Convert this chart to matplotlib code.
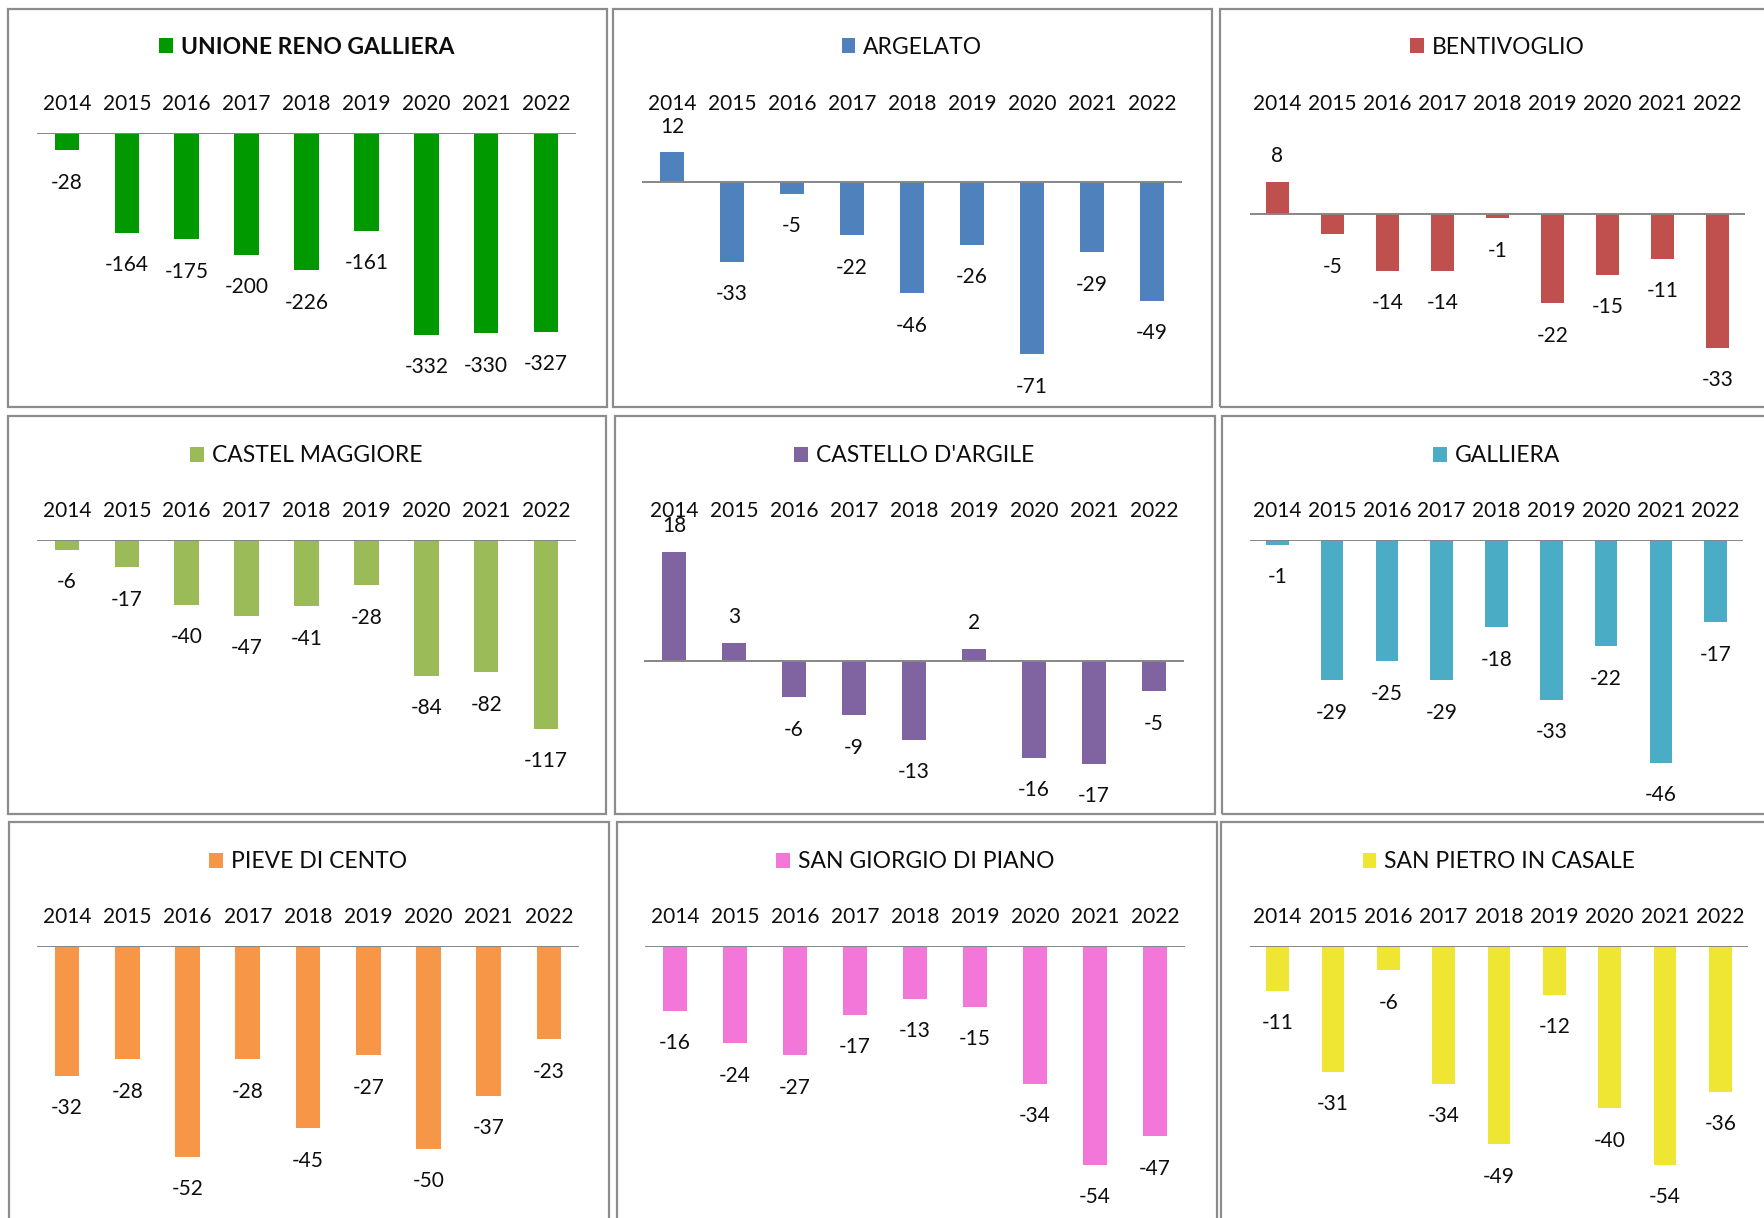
import matplotlib
matplotlib.use("Agg")
import matplotlib.pyplot as plt
import matplotlib.transforms as mtransforms
from matplotlib.patches import Rectangle

plt.rcParams['font.family'] = ['Lato', 'DejaVu Sans']

# data: saldo naturale per comune, 2014-2022
YEARS = ['2014', '2015', '2016', '2017', '2018', '2019', '2020', '2021', '2022']

unione = [-28, -164, -175, -200, -226, -161, -332, -330, -327]
argelato = [12, -33, -5, -22, -46, -26, -71, -29, -49]
bentivoglio = [8, -5, -14, -14, -1, -22, -15, -11, -33]
castel_maggiore = [-6, -17, -40, -47, -41, -28, -84, -82, -117]
castello_dargile = [18, 3, -6, -9, -13, 2, -16, -17, -5]
galliera = [-1, -29, -25, -29, -18, -33, -22, -46, -17]
pieve_di_cento = [-32, -28, -52, -28, -45, -27, -50, -37, -23]
san_giorgio = [-16, -24, -27, -17, -13, -15, -34, -54, -47]
san_pietro = [-11, -31, -6, -34, -49, -12, -40, -54, -36]

W, H = 1765, 1218

# (name, values, color, ylim, bold, plot x0, x1, row)
PANELS = [
    ('UNIONE RENO GALLIERA', unione, '#009A00', (-400, 0), True, 37, 576, 0),
    ('ARGELATO', argelato, '#4F81BD', (-80, 20), False, 642, 1182, 0),
    ('BENTIVOGLIO', bentivoglio, '#C0504D', (-40, 20), False, 1250, 1745, 0),
    ('CASTEL MAGGIORE', castel_maggiore, '#9BBB59', (-150, 0), False, 37, 576, 1),
    ("CASTELLO D'ARGILE", castello_dargile, '#8064A2', (-20, 20), False, 644, 1184, 1),
    ('GALLIERA', galliera, '#4BACC6', (-50, 0), False, 1250, 1743, 1),
    ('PIEVE DI CENTO', pieve_di_cento, '#F79646', (-60, 0), False, 37, 579, 2),
    ('SAN GIORGIO DI PIANO', san_giorgio, '#F377D9', (-60, 0), False, 645, 1185, 2),
    ('SAN PIETRO IN CASALE', san_pietro, '#EEE633', (-60, 0), False, 1250, 1748, 2),
]

# plot area top/bottom and title y per row (pixels from top)
ROW_TOP = [133, 540, 946]
ROW_BOT = [376, 782, 1189]
ROW_TITLE = [47, 456, 862]

# chart frames (x0, y0, x1, y1) in pixels
FRAMES = [
    (8, 9, 607, 407), (613, 9, 1212, 407), (1220, 9, 1800, 407),
    (8, 416, 606, 814), (615, 416, 1215, 814), (1222, 416, 1800, 814),
    (9, 822, 609, 1240), (617, 822, 1217, 1240), (1221, 822, 1800, 1240),
]

TXT = '#0d0d0d'

fig = plt.figure(figsize=(W / 100, H / 100), dpi=100)

for (x0, y0, x1, y1) in FRAMES:
    fig.patches.append(Rectangle((x0 / W, 1 - y1 / H), (x1 - x0) / W, (y1 - y0) / H,
                                 transform=fig.transFigure, fill=False,
                                 edgecolor='#8C8C8C', linewidth=1.6))

for name, vals, color, ylim, bold, x0, x1, row in PANELS:
    top, bot = ROW_TOP[row], ROW_BOT[row]
    ax = fig.add_axes([x0 / W, 1 - bot / H, (x1 - x0) / W, (bot - top) / H])
    xs = list(range(len(YEARS)))
    ax.bar(xs, vals, width=0.41, color=color, label=name, zorder=2)
    ax.axhline(0, color='#868686', linewidth=1.4, zorder=3)
    ax.set_xlim(-0.5, len(YEARS) - 0.5)
    ax.set_ylim(*ylim)
    ax.xaxis.tick_top()
    ax.set_xticks(xs)
    ax.set_xticklabels(YEARS, fontsize=15, color=TXT)
    ax.tick_params(axis='x', length=0, pad=14)
    ax.set_yticks([])
    for s in ax.spines.values():
        s.set_visible(False)
    ax.patch.set_visible(False)

    for x, v in zip(xs, vals):
        off = 18.5 if v > 0 else -23.5
        ax.annotate(str(v), (x, v), xytext=(0, off), textcoords='offset points',
                    ha='center', va='center', fontsize=15, color=TXT,
                    annotation_clip=False)

    trans = mtransforms.blended_transform_factory(ax.transAxes, fig.transFigure)
    leg = ax.legend(loc='center', bbox_to_anchor=(0.5, 1 - ROW_TITLE[row] / H),
                    bbox_transform=trans, frameon=False, handlelength=0.6,
                    handleheight=0.6, handletextpad=0.35, borderpad=0,
                    prop={'size': 16.5, 'weight': 'bold' if bold else 'normal'})
    for t in leg.get_texts():
        t.set_color(TXT)

fig.savefig('out.png', dpi=100)
